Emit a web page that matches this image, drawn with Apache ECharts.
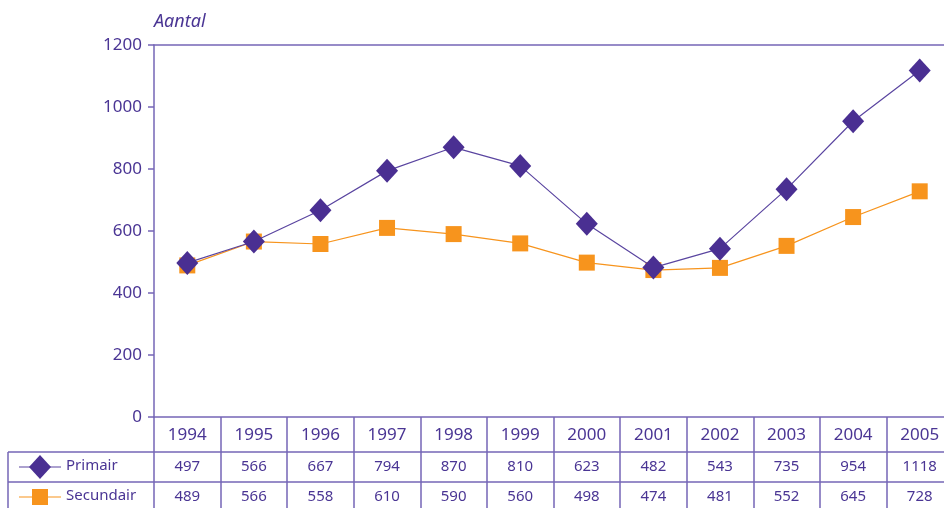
<!DOCTYPE html>
<html><head><meta charset="utf-8">
<script src="https://cdn.jsdelivr.net/npm/echarts@6/dist/echarts.min.js"></script>
<style>html,body{margin:0;padding:0;background:#fff;overflow:hidden;width:944px;height:508px}#c{width:960px;height:508px}</style>
</head><body><div id="c"></div>
<script>
const years = ['1994','1995','1996','1997','1998','1999','2000','2001','2002','2003','2004','2005'];
const primair = [497,566,667,794,870,810,623,482,543,735,954,1118];
const secundair = [489,566,558,610,590,560,498,474,481,552,645,728];
const yTicks = [0,200,400,600,800,1000,1200];

const TXT = '#4a3594', LINE = '#7566b6', PUR = '#4a2f92', ORA = '#f7941d';
const FONT = 'Noto Sans';
const gl = 154, gt = 45, gb = 417;

const chart = echarts.init(document.getElementById('c'));
const baseX = {type:'category', data:years, position:'bottom', gridIndex:0,
  axisLine:{show:false}, axisTick:{show:false}, splitLine:{show:false}};
chart.setOption({
  animation:false,
  textStyle:{fontFamily:FONT},
  grid:{left:gl, top:gt, width:799, bottom:508-gb, containLabel:false},
  xAxis:[
    Object.assign({}, baseX, {
      axisLine:{show:true, lineStyle:{color:LINE, width:1.5}},
      axisTick:{show:true, interval:0, length:91, inside:false, lineStyle:{color:LINE, width:1.5}},
      axisLabel:{interval:0, margin:18, verticalAlign:'middle', color:TXT, fontSize:17, fontFamily:FONT}
    }),
    Object.assign({}, baseX, {data:primair.map(String),
      axisLabel:{interval:0, margin:50, verticalAlign:'middle', color:TXT, fontSize:15, fontFamily:FONT}}),
    Object.assign({}, baseX, {data:secundair.map(String),
      axisLabel:{interval:0, margin:80, verticalAlign:'middle', color:TXT, fontSize:15, fontFamily:FONT}}),
    Object.assign({}, baseX, {position:'top', axisLine:{show:true, lineStyle:{color:LINE, width:1.5}}, axisLabel:{show:false}})
  ],
  yAxis:{type:'value', min:0, max:1200, interval:200,
    name:'Aantal', nameLocation:'end', nameGap:14,
    nameTextStyle:{color:TXT, fontStyle:'italic', fontSize:18, align:'left', padding:[0,0,0,0], fontFamily:FONT},
    axisLine:{show:true, lineStyle:{color:LINE, width:1.5}},
    axisTick:{show:true, length:6, lineStyle:{color:LINE, width:1.5}},
    axisLabel:{color:TXT, fontSize:17, margin:12, fontFamily:FONT, formatter:v=>String(v)},
    splitLine:{show:false}},
  series:[
    {name:'Secundair', type:'line', data:secundair, symbol:'rect', symbolSize:16,
      itemStyle:{color:ORA}, lineStyle:{color:ORA, width:1.2}, z:2},
    {name:'Primair', type:'line', data:primair, symbol:'diamond', symbolSize:[22,24],
      itemStyle:{color:PUR}, lineStyle:{color:'#5a45a0', width:1.2}, z:3}
  ],
  graphic:[
    {type:'line', shape:{x1:8,y1:452,x2:960,y2:452}, style:{stroke:LINE, lineWidth:1.5}, silent:true},
    {type:'line', shape:{x1:8,y1:482,x2:960,y2:482}, style:{stroke:LINE, lineWidth:1.5}, silent:true},
    {type:'line', shape:{x1:8,y1:452,x2:8,y2:510}, style:{stroke:LINE, lineWidth:1.5}, silent:true},
    {type:'line', shape:{x1:19,y1:467,x2:61,y2:467}, style:{stroke:'#5a45a0', lineWidth:1.2}, silent:true},
    {type:'polygon', shape:{points:[[40,455],[51,467],[40,479],[29,467]]}, style:{fill:PUR}, silent:true},
    {type:'text', left:66, top:458, style:{text:'Primair', fill:TXT, font:'15px '+FONT}},
    {type:'line', shape:{x1:19,y1:497,x2:61,y2:497}, style:{stroke:ORA, lineWidth:1.2}, silent:true},
    {type:'rect', shape:{x:32,y:489,width:16,height:16}, style:{fill:ORA}, silent:true},
    {type:'text', left:66, top:488, style:{text:'Secundair', fill:TXT, font:'15px '+FONT}}
  ]
});
</script></body></html>
